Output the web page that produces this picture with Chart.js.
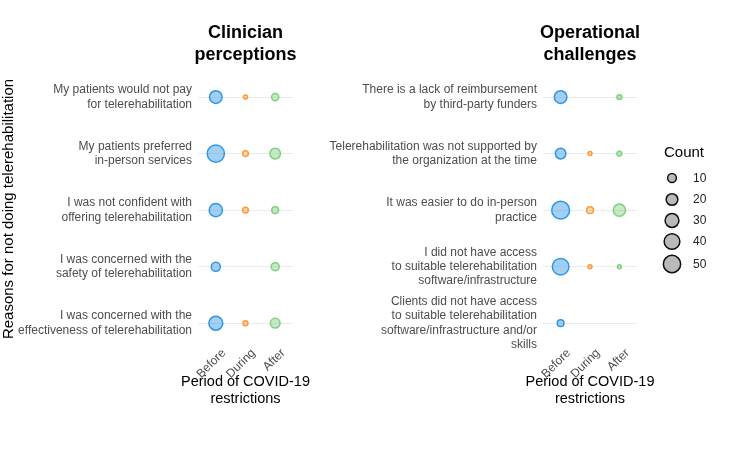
<!DOCTYPE html>
<html><head><meta charset="utf-8">
<script src="https://cdn.jsdelivr.net/npm/chart.js@4/dist/chart.umd.min.js"></script>
<style>
html,body{margin:0;padding:0;background:#fff;}
#c1{position:absolute;left:0;top:0;}
#c2{position:absolute;left:320px;top:0;}
</style></head><body>
<canvas id="c1" width="320" height="450"></canvas>
<canvas id="c2" width="416" height="450"></canvas>
<script>
// ---- data ----
const periods = ['Before', 'During', 'After'];
const clinicianReasons = [
  ['My patients would not pay', 'for telerehabilitation'],
  ['My patients preferred', 'in-person services'],
  ['I was not confident with', 'offering telerehabilitation'],
  ['I was concerned with the', 'safety of telerehabilitation'],
  ['I was concerned with the', 'effectiveness of telerehabilitation']
];
const operationalReasons = [
  ['There is a lack of reimbursement', 'by third-party funders'],
  ['Telerehabilitation was not supported by', 'the organization at the time'],
  ['It was easier to do in-person', 'practice'],
  ['I did not have access', 'to suitable telerehabilitation', 'software/infrastructure'],
  ['Clients did not have access', 'to suitable telerehabilitation', 'software/infrastructure and/or', 'skills']
];
const clinBefore = [24, 49, 27, 11, 30];
const clinDuring = [1, 3, 3, null, 2];
const clinAfter  = [6, 16, 5, 8, 13];
const opBefore = [24, 16, 53, 45, 5];
const opDuring = [null, 1, 5, 1, null];
const opAfter  = [2, 2, 22, 1, null];
const legendCounts = [10, 20, 30, 40, 50];
const clinTitle = ['Clinician', 'perceptions'];
const opTitle = ['Operational', 'challenges'];
const xTitle = ['Period of COVID-19', 'restrictions'];
const yTitle = 'Reasons for not doing telerehabilitation';
const legendTitle = 'Count';

// ---- styling ----
const FONT = "'Liberation Sans', Arial, sans-serif";
const COLORS = [
  {b: '#2f96e6', f: 'rgba(47,150,230,0.45)'},
  {b: '#ff9a35', f: 'rgba(255,154,53,0.35)'},
  {b: '#7fd07f', f: 'rgba(127,208,127,0.45)'}
];
function rOf(c) { return 0.9 + 1.1 * Math.sqrt(c); }

function makeDatasets(seriesList) {
  return seriesList.map((vals, pi) => ({
    label: periods[pi],
    data: vals.map((v, ri) => v == null ? null : {x: pi, y: ri, r: rOf(v), count: v}).filter(Boolean),
    backgroundColor: COLORS[pi].f,
    borderColor: COLORS[pi].b,
    borderWidth: 1.5,
    clip: false
  }));
}

const textPlugin = {
  id: 'txt',
  afterDraw(chart, args, opts) {
    const ctx = chart.ctx, ca = chart.chartArea;
    const cx = (ca.left + ca.right) / 2;
    ctx.save();
    ctx.fillStyle = '#000';
    ctx.textAlign = 'center';
    ctx.textBaseline = 'alphabetic';
    ctx.font = 'bold 18px ' + FONT;
    opts.title.forEach((l, i) => ctx.fillText(l, cx, 38 + i * 22));
    ctx.font = '14.5px ' + FONT;
    opts.xTitle.forEach((l, i) => ctx.fillText(l, cx, 386 + i * 17));
    if (opts.yTitle) {
      ctx.save();
      ctx.translate(13, 209);
      ctx.rotate(-Math.PI / 2);
      ctx.font = '15px ' + FONT;
      ctx.fillText(opts.yTitle, 0, 0);
      ctx.restore();
    }
    if (opts.legend) {
      const lx = ca.right + 27;
      ctx.textAlign = 'left';
      ctx.textBaseline = 'middle';
      ctx.font = '15px ' + FONT;
      ctx.fillText(legendTitle, lx, 153);
      const keyY = [178, 199.5, 220.5, 241.5, 264];
      legendCounts.forEach((c, i) => {
        ctx.beginPath();
        ctx.arc(lx + 8, keyY[i], rOf(c), 0, Math.PI * 2);
        ctx.fillStyle = '#bababa';
        ctx.fill();
        ctx.lineWidth = 1.5;
        ctx.strokeStyle = '#111';
        ctx.stroke();
        ctx.fillStyle = '#222';
        ctx.font = '12px ' + FONT;
        ctx.fillText(String(c), lx + 29, keyY[i] + 0.5);
      });
    }
    ctx.restore();
  }
};

function makeChart(id, reasons, series, yAxisWidth, padRight, txtOpts) {
  return new Chart(document.getElementById(id), {
    type: 'bubble',
    data: {datasets: makeDatasets(series)},
    options: {
      responsive: false,
      animation: false,
      layout: {padding: {top: 66, right: padRight, left: 0, bottom: 0}},
      plugins: {legend: {display: false}, tooltip: {enabled: false}, title: {display: false}, txt: txtOpts},
      scales: {
        x: {
          type: 'linear', min: -0.6, max: 2.6,
          afterBuildTicks: s => { s.ticks = periods.map((_, i) => ({value: i})); },
          afterFit: s => { s.height = 107; },
          ticks: {callback: v => periods[v], minRotation: 45, maxRotation: 45, autoSkip: false,
                  color: '#4d4d4d', font: {family: FONT, size: 12}, padding: 3, labelOffset: 8},
          grid: {display: false, drawTicks: false},
          border: {display: false}
        },
        y: {
          type: 'linear', reverse: true, min: -0.55, max: 4.35,
          afterBuildTicks: s => { s.ticks = reasons.map((_, i) => ({value: i})); },
          afterFit: s => { s.width = yAxisWidth; },
          ticks: {callback: v => reasons[v], autoSkip: false, color: '#4d4d4d',
                  font: {family: FONT, size: 12, lineHeight: 1.2}, padding: 6},
          grid: {color: '#ebebeb', lineWidth: 1, drawTicks: false},
          border: {display: false}
        }
      }
    },
    plugins: [textPlugin]
  });
}

makeChart('c1', clinicianReasons, [clinBefore, clinDuring, clinAfter], 198, 27,
  {title: clinTitle, xTitle: xTitle, yTitle: yTitle, legend: false});
makeChart('c2', operationalReasons, [opBefore, opDuring, opAfter], 223, 99,
  {title: opTitle, xTitle: xTitle, yTitle: null, legend: true});
</script>
</body></html>
